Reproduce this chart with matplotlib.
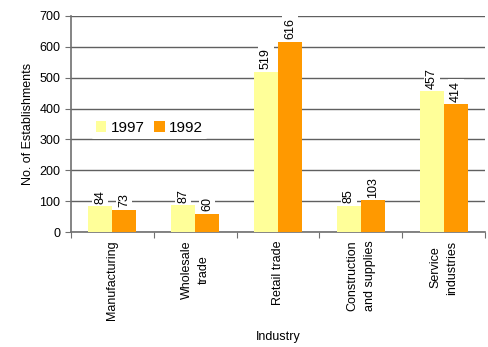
import numpy as np
import matplotlib
matplotlib.use("Agg")
import matplotlib.pyplot as plt

plt.rcParams['font.family'] = ['Liberation Sans', 'DejaVu Sans']

industries = ["Manufacturing", "Wholesale\ntrade", "Retail trade",
              "Construction\nand supplies", "Service\nindustries"]
vals_1997 = [84, 87, 519, 85, 457]
vals_1992 = [73, 60, 616, 103, 414]

fig = plt.figure(figsize=(4.89, 3.47), dpi=100)
ax = fig.add_axes([0.145, 0.331, 0.847, 0.623])

x = np.arange(len(industries))
w = 0.29
b1 = ax.bar(x - w / 2, vals_1997, w, color='#FFFF99', label='1997', zorder=3)
b2 = ax.bar(x + w / 2, vals_1992, w, color='#FF9900', label='1992', zorder=3)

for bars, vals in [(b1, vals_1997), (b2, vals_1992)]:
    for r, v in zip(bars, vals):
        ax.text(r.get_x() + r.get_width() / 2, v + 8, str(v), rotation=90,
                ha='center', va='bottom', fontsize=9, zorder=4,
                bbox=dict(facecolor='white', edgecolor='none', pad=1.5))

ax.set_ylim(0, 700)
ax.set_yticks(range(0, 701, 100))
ax.set_xlim(-0.5, len(industries) - 0.5)
ax.yaxis.grid(True, color='#606060', linewidth=1, zorder=0)
ax.set_axisbelow(True)

# category ticks at the boundaries, labels in the middle
ax.set_xticks(np.arange(len(industries) + 1) - 0.5)
ax.set_xticklabels([])
ax.set_xticks(x, minor=True)
ax.set_xticklabels(industries, minor=True, rotation=90, fontsize=9,
                   va='top', ha='center', multialignment='center',
                   linespacing=1.6)
ax.tick_params(axis='x', which='minor', length=0, pad=6)
ax.tick_params(axis='x', which='major', length=4, color='#707070', direction='out')
ax.tick_params(axis='y', length=4, color='#707070', labelsize=9)

for s in ['top', 'right']:
    ax.spines[s].set_visible(False)
for s in ['left', 'bottom']:
    ax.spines[s].set_color('#707070')
    ax.spines[s].set_linewidth(1.2)

ax.set_ylabel("No. of Establishments", fontsize=9)
ax.set_xlabel("Industry", fontsize=9, labelpad=8)

leg = ax.legend(loc='upper left', bbox_to_anchor=(0.03, 0.572), ncol=2,
                frameon=True, fontsize=11, handlelength=0.7, handleheight=0.7,
                handletextpad=0.3, columnspacing=0.6, borderpad=0.3)
leg.get_frame().set_edgecolor('none')
leg.get_frame().set_facecolor('white')
leg.get_frame().set_alpha(1)

fig.savefig("out.png", dpi=100)
